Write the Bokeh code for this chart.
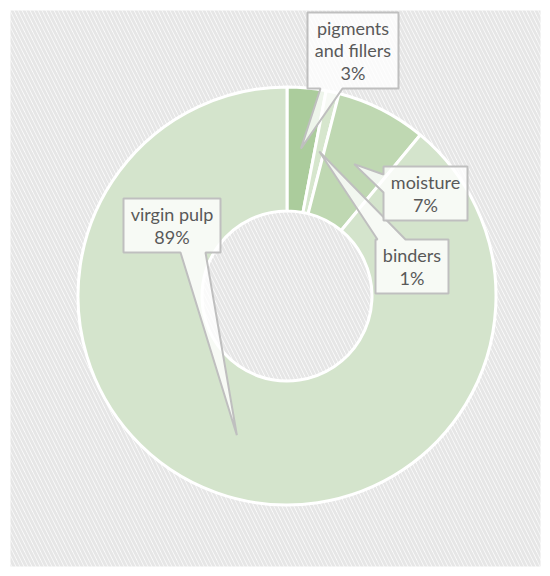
import math
from bokeh.plotting import figure
from bokeh.models import Range1d, BoxAnnotation, ColumnDataSource
from bokeh.core.properties import value
from bokeh.embed import file_html
from bokeh.resources import INLINE

# ---- data ----
labels = ["pigments\nand fillers", "binders", "moisture", "virgin pulp"]
values = [3, 1, 7, 89]
colors = ["#abcc9c", "#d6e6cd", "#bfd8b2", "#d4e4cc"]

W, H = 550, 576

def X(px):
    return px

def Y(py):
    return H - py

p = figure(width=W, height=H, x_range=Range1d(0, W), y_range=Range1d(0, H),
           output_backend="svg", toolbar_location=None, min_border=0,
           x_axis_type=None, y_axis_type=None)
p.grid.visible = False
p.outline_line_color = None
p.background_fill_color = "white"
p.border_fill_color = "white"

bg = BoxAnnotation(left=X(10), right=X(540), bottom=Y(566), top=Y(10),
                   fill_color="white", fill_alpha=1.0, line_color=None,
                   hatch_pattern="\\", hatch_color="#e6e6e6", hatch_scale=8,
                   hatch_weight=3, level="underlay")
p.add_layout(bg)

cx, cy = X(286.5), Y(295.5)
r_out, r_in = 209, 85

total = float(sum(values))
starts, ends, mids = [], [], []
acc = 0.0
for v in values:
    a0 = math.pi / 2 - acc / total * 2 * math.pi
    acc += v
    a1 = math.pi / 2 - acc / total * 2 * math.pi
    starts.append(a0)
    ends.append(a1)
    mids.append((a0 + a1) / 2)

src = ColumnDataSource(dict(start=starts, end=ends, color=colors))
p.annular_wedge(x=cx, y=cy, inner_radius=r_in, outer_radius=r_out,
                start_angle="start", end_angle="end", direction="clock",
                fill_color="color", line_color="white", line_width=3, source=src)

# callout boxes (page pixel layout): left, top, right, bottom, pointer side, base a, base b
boxes = [
    (307, 12, 398, 88, "bottom", 342, 320),
    (375, 239, 448, 293, "top", 377, 405),
    (383, 166, 467, 220, "left", 174, 192),
    (123, 198, 220, 252, "bottom", 205, 180),
]

r_tip = 148
xs, ys, tx, ty, texts = [], [], [], [], []
for i, (l, t, r, b, side, a, bb) in enumerate(boxes):
    ang = mids[i]
    tipx = cx + r_tip * math.cos(ang)
    tipy = cy + r_tip * math.sin(ang)
    if side == "bottom":
        pts = [(X(l), Y(t)), (X(r), Y(t)), (X(r), Y(b)), (X(a), Y(b)), (tipx, tipy),
               (X(bb), Y(b)), (X(l), Y(b))]
    elif side == "top":
        pts = [(X(l), Y(t)), (X(a), Y(t)), (tipx, tipy), (X(bb), Y(t)), (X(r), Y(t)),
               (X(r), Y(b)), (X(l), Y(b))]
    else:  # left
        pts = [(X(l), Y(t)), (X(r), Y(t)), (X(r), Y(b)), (X(l), Y(b)), (X(l), Y(bb)),
               (tipx, tipy), (X(l), Y(a))]
    xs.append([q[0] for q in pts])
    ys.append([q[1] for q in pts])
    tx.append(X((l + r) / 2))
    ty.append(Y((t + b) / 2))
    texts.append(f"{labels[i]}\n{values[i]}%")

p.patches(xs=xs, ys=ys, fill_color="white", fill_alpha=0.8,
          line_color="#bfbfbf", line_width=2)
p.text(x=tx, y=ty, text=texts, text_align="center", text_baseline="middle",
       text_font=value("Lato"), text_font_size="18px", text_color="#595959",
       text_line_height=1.04)

open("out.html", "w").write(file_html(p, INLINE))
